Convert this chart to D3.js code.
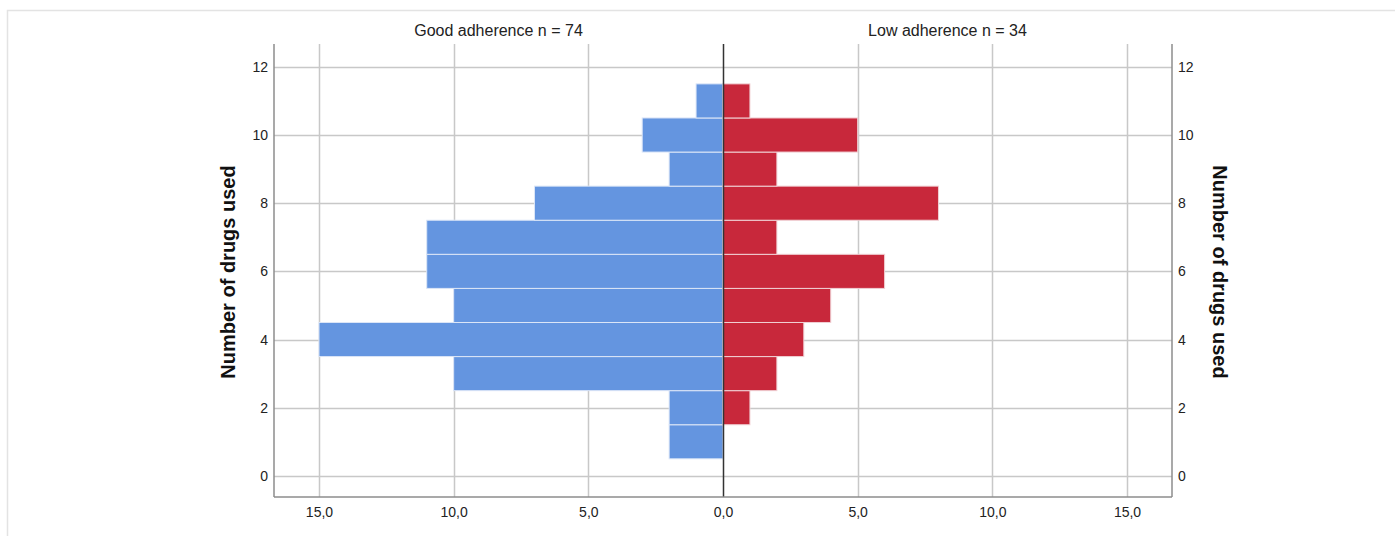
<!DOCTYPE html>
<html><head><meta charset="utf-8">
<script src="https://cdn.jsdelivr.net/npm/d3@7"></script>
<style>body{margin:0;background:#fff;}svg{display:block;font-family:"Liberation Sans",Arial,sans-serif;}</style>
</head><body>
<script>
const drugCounts = [1,2,3,4,5,6,7,8,9,10,11];
const goodAdherence = [2,2,10,15,10,11,11,7,2,3,1];
const lowAdherence  = [0,1,2,3,4,6,2,8,2,5,1];
const yTicks = [0,2,4,6,8,10,12];
const xTicks = [-15,-10,-5,0,5,10,15];
const leftTitle = "Good adherence n = 74";
const rightTitle = "Low adherence n = 34";
const yTitle = "Number of drugs used";

const W = 1395, H = 536;
const L = 274, R = 1172, T = 44, B = 497;
const svg = d3.select("body").append("svg").attr("width", W).attr("height", H);

// outer frame
svg.append("rect").attr("x",7.5).attr("y",10.5).attr("width",W).attr("height",H)
  .attr("fill","none").attr("stroke","#e3e3e3").attr("stroke-width",1.5);

const x = d3.scaleLinear().domain([-16.67,16.67]).range([L,R]);
const y = d3.scaleLinear().domain([-0.62,12.67]).range([B,T]);

// grid
svg.append("g").selectAll("line").data(yTicks).join("line")
  .attr("x1",L).attr("x2",R).attr("y1",d=>Math.round(y(d))+0.5).attr("y2",d=>Math.round(y(d))+0.5)
  .attr("stroke","#c8c8c8").attr("stroke-width",1.5);
svg.append("g").selectAll("line").data(xTicks.filter(d=>d!==0)).join("line")
  .attr("y1",T).attr("y2",B).attr("x1",d=>Math.round(x(d))+0.5).attr("x2",d=>Math.round(x(d))+0.5)
  .attr("stroke","#c8c8c8").attr("stroke-width",1.5);

// bars
const bh = y(0) - y(1);
svg.append("g").selectAll("rect").data(drugCounts.map((c,i)=>({c,v:goodAdherence[i]})).filter(d=>d.v>0)).join("rect")
  .attr("x",d=>x(-d.v)).attr("width",d=>x(0)-x(-d.v))
  .attr("y",d=>y(d.c+0.5)).attr("height",bh)
  .attr("fill","#6495e0").attr("stroke","#dce6f7").attr("stroke-width",1);
svg.append("g").selectAll("rect").data(drugCounts.map((c,i)=>({c,v:lowAdherence[i]})).filter(d=>d.v>0)).join("rect")
  .attr("x",x(0)).attr("width",d=>x(d.v)-x(0))
  .attr("y",d=>y(d.c+0.5)).attr("height",bh)
  .attr("fill","#c8283b").attr("stroke","#f0d0d4").attr("stroke-width",1);

// center line
svg.append("line").attr("x1",Math.round(x(0))+0.5).attr("x2",Math.round(x(0))+0.5).attr("y1",T).attr("y2",B)
  .attr("stroke","#333").attr("stroke-width",1.5);

// axes
const fmt = d => d3.format(".1f")(Math.abs(d)).replace(".",",");
const gl = svg.append("g").attr("transform",`translate(${L},0)`).call(d3.axisLeft(y).tickValues(yTicks).tickSize(0).tickPadding(6));
const gr = svg.append("g").attr("transform",`translate(${R},0)`).call(d3.axisRight(y).tickValues(yTicks).tickSize(0).tickPadding(6));
const gb = svg.append("g").attr("transform",`translate(0,${B})`).call(d3.axisBottom(x).tickValues(xTicks).tickFormat(fmt).tickSize(0).tickPadding(10));
[gl,gr,gb].forEach(g=>{
  g.select(".domain").attr("stroke","#8c8c8c").attr("stroke-width",1.5);
  g.selectAll(".tick line").attr("stroke","#8c8c8c").attr("stroke-width",1.5);
  g.selectAll("text").attr("fill","#222").style("font-size","14px").style("font-family","'Liberation Sans',Arial,sans-serif");
});
gl.select(".domain").attr("d",`M0,${T}V${B}`);
gr.select(".domain").attr("d",`M0,${T}V${B}`);
gb.select(".domain").attr("d",`M${L},0H${R}`);

// titles
svg.append("text").attr("x",(L+x(0))/2).attr("y",36).attr("text-anchor","middle")
  .style("font-size","16px").attr("fill","#222").text(leftTitle);
svg.append("text").attr("x",(x(0)+R)/2).attr("y",36).attr("text-anchor","middle")
  .style("font-size","16px").attr("fill","#222").text(rightTitle);
svg.append("text").attr("transform",`translate(235,${272}) rotate(-90)`).attr("text-anchor","middle")
  .style("font-size","20px").style("font-weight","bold").attr("fill","#111").text(yTitle);
svg.append("text").attr("transform",`translate(1213,${272}) rotate(90)`).attr("text-anchor","middle")
  .style("font-size","20px").style("font-weight","bold").attr("fill","#111").text(yTitle);
</script>
</body></html>
